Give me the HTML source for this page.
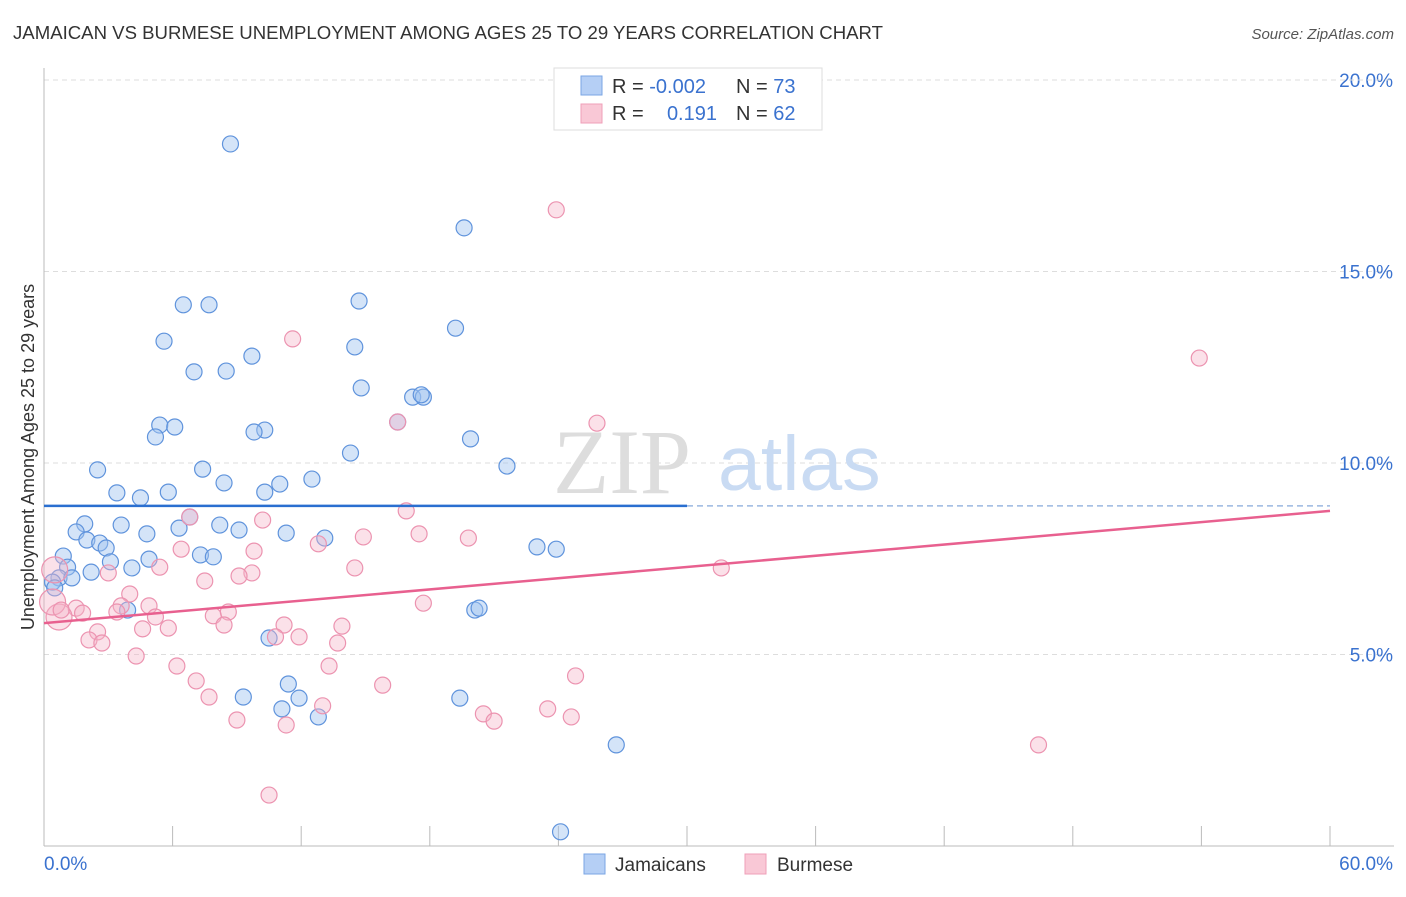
<!DOCTYPE html>
<html><head><meta charset="utf-8"><style>
body{margin:0;background:#fff;font-family:"Liberation Sans",sans-serif;}
svg text{font-family:"Liberation Sans",sans-serif;}
</style></head><body>
<svg id="chart" width="1406" height="892" viewBox="0 0 1406 892" xmlns="http://www.w3.org/2000/svg">
<text x="13" y="39" font-size="18.6" fill="#333">JAMAICAN VS BURMESE UNEMPLOYMENT AMONG AGES 25 TO 29 YEARS CORRELATION CHART</text>
<text x="1394" y="39" font-size="15" fill="#555" text-anchor="end" font-style="italic">Source: ZipAtlas.com</text>
<g id="grid"></g>
<g>
<text x="553" y="493" font-size="92" fill="#ddd" style="font-family:'Liberation Serif',serif">ZIP</text>
<text x="718" y="490" font-size="77" fill="#c9dbf3">atlas</text>
</g>
<g id="axes"></g>
<g id="points"></g>
<g id="lines"></g>
<text transform="translate(34,457) rotate(-90)" font-size="18" fill="#333" text-anchor="middle">Unemployment Among Ages 25 to 29 years</text>
<g>
<rect x="554" y="68" width="268" height="62" fill="#fff" stroke="#ddd"/>
<rect x="581" y="76" width="21" height="19" fill="#b5cff5" stroke="#7aa6e4"/>
<rect x="581" y="104" width="21" height="19" fill="#f9c8d6" stroke="#ef9fb8"/>
<text x="612" y="93" font-size="20" fill="#333">R = <tspan fill="#3a72cf">-0.002</tspan></text>
<text x="736" y="93" font-size="20" fill="#333">N = <tspan fill="#3a72cf">73</tspan></text>
<text x="612" y="120" font-size="20" fill="#333">R = </text>
<text x="717" y="120" font-size="20" fill="#3a72cf" text-anchor="end">0.191</text>
<text x="736" y="120" font-size="20" fill="#333">N = <tspan fill="#3a72cf">62</tspan></text>
</g>
<g>
<rect x="584" y="854" width="21" height="20" fill="#b5cff5" stroke="#7aa6e4"/>
<text x="615" y="871" font-size="19" fill="#333">Jamaicans</text>
<rect x="745" y="854" width="21" height="20" fill="#f9c8d6" stroke="#ef9fb8"/>
<text x="777" y="871" font-size="19" fill="#333">Burmese</text>
</g>
</svg>
<script>
const yTicks=[5,10,15,20];
const yTickLabels=["5.0%","10.0%","15.0%","20.0%"];
const xTicks=[0,6,12,18,24,30,36,42,48,54,60];
const xEndLabels=["0.0%","60.0%"];
const blueX=[8.7,19.6,6.5,7.7,14.7,19.2,5.6,14.5,9.7,7.0,8.5,14.8,17.2,17.7,17.6,5.4,6.1,5.2,10.3,9.8,19.9,14.3,2.5,7.4,21.6,12.5,8.4,11.0,3.4,4.5,5.8,10.3,1.9,1.5,3.6,6.3,8.2,9.1,11.3,13.1,4.8,2.0,2.6,2.9,23.0,23.9,0.9,4.9,3.1,7.3,7.9,4.1,1.1,2.2,0.7,1.3,0.4,0.5,3.9,20.1,20.3,10.5,11.4,9.3,11.9,19.4,11.1,12.8,26.7,24.1,6.8,16.5];
const blueY=[18.33,16.14,14.13,14.13,14.23,13.52,13.18,13.03,12.79,12.38,12.40,11.96,11.72,11.72,11.78,10.99,10.94,10.68,10.86,10.81,10.63,10.26,9.82,9.84,9.92,9.58,9.48,9.45,9.22,9.09,9.24,9.24,8.41,8.20,8.38,8.30,8.38,8.25,8.17,8.04,8.15,7.99,7.91,7.78,7.81,7.75,7.57,7.49,7.42,7.60,7.55,7.26,7.28,7.15,7.00,7.00,6.89,6.74,6.16,6.16,6.21,5.43,4.23,3.89,3.86,3.86,3.58,3.37,2.64,0.37,8.59,11.07];
const pinkX=[23.9,53.9,11.6,25.8,16.5,16.9,10.2,6.8,17.5,19.8,14.9,12.8,6.4,9.8,5.4,14.5,31.6,9.7,9.1,3.0,7.5,4.0,4.9,3.6,17.7,1.5,1.8,3.4,5.2,7.9,8.6,0.7,0.4,0.5,0.8,11.2,13.9,4.6,5.8,2.5,8.4,10.8,11.9,13.7,2.1,2.7,4.3,6.2,13.3,24.8,7.1,15.8,7.7,23.5,20.5,24.6,9.0,21.0,13.0,11.3,46.4,10.5];
const pinkY=[16.61,12.74,13.24,11.04,11.07,8.75,8.51,8.59,8.15,8.04,8.07,7.89,7.75,7.70,7.28,7.26,7.26,7.13,7.05,7.13,6.92,6.58,6.27,6.27,6.34,6.21,6.08,6.11,5.98,6.01,6.11,5.98,6.37,7.21,6.16,5.77,5.74,5.67,5.69,5.59,5.77,5.46,5.46,5.30,5.38,5.30,4.96,4.70,4.70,4.44,4.31,4.20,3.89,3.58,3.45,3.37,3.29,3.26,3.66,3.16,2.64,1.33];
const pinkWeight=[1,1,1,1,1,1,1,1,1,1,1,1,1,1,1,1,1,1,1,1,1,1,1,1,1,1,1,1,1,1,1,2,2,2,1,1,1,1,1,1,1,1,1,1,1,1,1,1,1,1,1,1,1,1,1,1,1,1,1,1,1,1];
const blueTrend=[8.88,8.88];
const pinkTrend=[5.82,8.75];

const NS="http://www.w3.org/2000/svg";
const X0=44,X1=1330,Y0=846,PXPER=38.3;
const sx=v=>X0+(v/60)*(X1-X0);
const sy=v=>Y0-v*PXPER;
function mk(tag,attrs,parent){const e=document.createElementNS(NS,tag);for(const k in attrs)e.setAttribute(k,attrs[k]);document.getElementById(parent).appendChild(e);return e;}

yTicks.forEach((t,i)=>{
  const l=mk('line',{x1:X0,x2:1394,y1:sy(t),y2:sy(t),stroke:'#ddd','stroke-dasharray':'5,4'},'grid');
  
  
  const tx=mk('text',{x:1393,y:sy(t)+7,'font-size':19,fill:'#3a72cf','text-anchor':'end'},'grid');
  tx.textContent=yTickLabels[i];
  
  
});
const topGrid=mk('line',{x1:X0,x2:1394,y1:80,y2:80,stroke:'#ddd','stroke-dasharray':'5,4'},'grid');


const ya=mk('line',{x1:X0,x2:X0,y1:68,y2:Y0,stroke:'#bbb'},'axes');


const xa=mk('line',{x1:X0,x2:1394,y1:Y0,y2:Y0,stroke:'#bbb'},'axes');


xTicks.forEach(t=>{
  const l=mk('line',{x1:sx(t),x2:sx(t),y1:826,y2:Y0,stroke:'#bbb'},'axes');
  
  
});
const xl0=mk('text',{x:44,y:870,'font-size':19,fill:'#3a72cf'},'axes');
xl0.textContent=xEndLabels[0];


const xl1=mk('text',{x:1393,y:870,'font-size':19,fill:'#3a72cf','text-anchor':'end'},'axes');
xl1.textContent=xEndLabels[1];



blueX.forEach((v,i)=>{
  const c=mk('circle',{cx:sx(v),cy:sy(blueY[i]),r:8,fill:'rgba(160,195,240,0.45)',stroke:'#5f93dc','stroke-width':1.2},'points');
  
  
});
pinkX.forEach((v,i)=>{
  const c=mk('circle',{cx:sx(v),cy:sy(pinkY[i]),r:pinkWeight[i]>1?13:8,fill:'rgba(245,180,200,0.4)',stroke:'#ec93b0','stroke-width':1.2},'points');
  
  
});
const bMid=blueTrend[0]+(blueTrend[1]-blueTrend[0])/2;
const bl=mk('line',{x1:sx(0),x2:sx(30),y1:sy(blueTrend[0]),y2:sy(bMid),stroke:'#2a6fd0','stroke-width':2.5},'lines');


const bd=mk('line',{x1:sx(30),x2:sx(60),y1:sy(bMid),y2:sy(blueTrend[1]),stroke:'#9bb8e0','stroke-width':1.5,'stroke-dasharray':'6,4'},'lines');


const pl=mk('line',{x1:sx(0),x2:sx(60),y1:sy(pinkTrend[0]),y2:sy(pinkTrend[1]),stroke:'#e8608f','stroke-width':2.5},'lines');


</script>
</body></html>
